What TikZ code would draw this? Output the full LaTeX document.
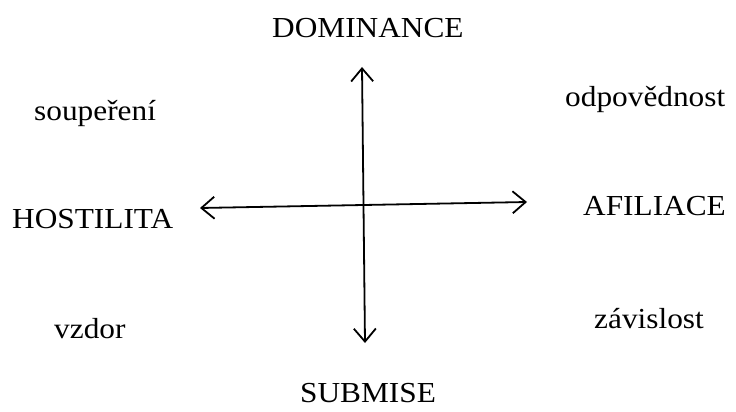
\documentclass[tikz,border=0pt]{standalone}
\usepackage{fontspec}
\setmainfont[FakeStretch=1.08]{Liberation Serif}
\usepackage{tikz}
\usetikzlibrary{arrows.meta,positioning}
\tikzset{
    % Plain text labels
    label text/.style={
        draw=none,
        inner sep=0pt,
        anchor=base west,
        text=black,
        font=\fontsize{29}{33}\selectfont
    },
    axis arrow/.style={
        {Straight Barb[length=13pt,width=22pt,line width=1.8pt]}-{Straight Barb[length=13pt,width=22pt,line width=1.8pt]},
        line width=1.8pt,
        color=black
    }
}
\begin{document}
\begin{tikzpicture}[x=1pt, y=-1pt]
        \useasboundingbox (0,0) rectangle (736,412);

        % Axis ends
        \coordinate (top) at (362,67);
        \coordinate (bottom) at (365,343);
        \coordinate (left) at (200,208);
        \coordinate (right) at (527,202);

        % Axis names
        \node[label text] (dominance) at (272,38) {DOMINANCE};
        \node[label text] (submise) at (300,402) {SUBMISE};
        \node[label text] (hostilita) at (12,228) {HOSTILITA};
        \node[label text] (afiliace) at (583,215) {AFILIACE};

        % Corner labels
        \node[label text] (souperení) at (34,120) {soupeření};
        \node[label text] (odpovednost) at (565,106) {odpovědnost};
        \node[label text] (vzdor) at (54,338) {vzdor};
        \node[label text] (zavislost) at (594,328) {závislost};

        % Arrows
        \draw[axis arrow] (bottom) -- (top);
        \draw[axis arrow] (left) -- (right);
    \end{tikzpicture}
\end{document}
